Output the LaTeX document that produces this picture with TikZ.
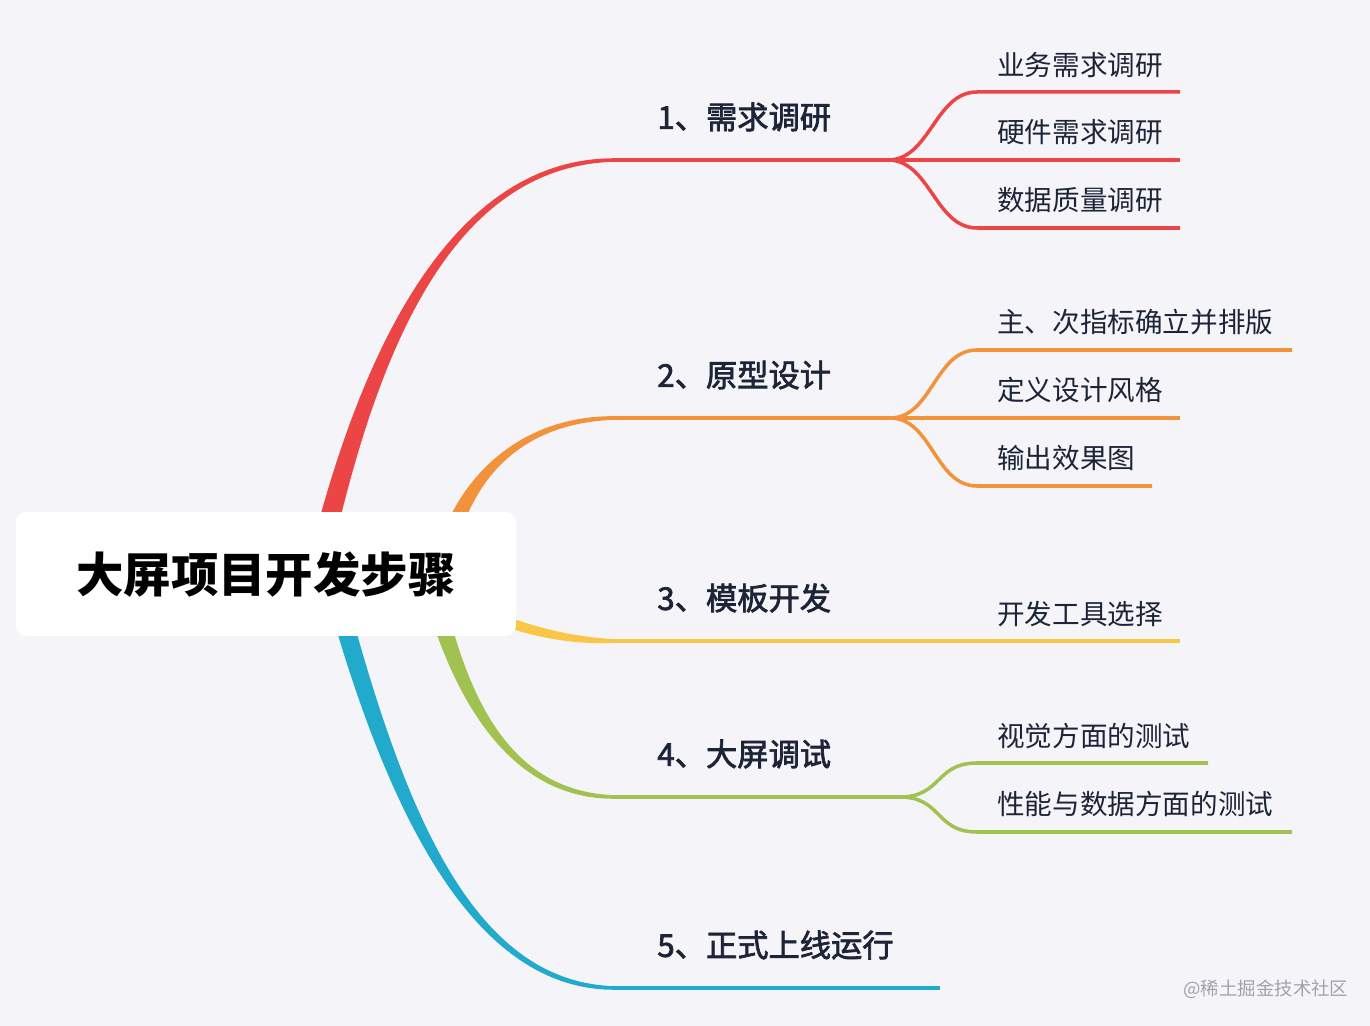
\documentclass[tikz,border=0pt]{standalone}
\usepackage{fontspec}
\setmainfont{Noto Sans CJK SC}
\newfontfamily\topicfont[FakeBold=2.2]{Noto Sans CJK SC}
\usetikzlibrary{positioning}

\definecolor{paper}{HTML}{F5F5F9}
\definecolor{ink}{HTML}{1D2438}
\definecolor{mark}{HTML}{A2A2AA}
\definecolor{brRed}{HTML}{EB4545}
\definecolor{brOrange}{HTML}{F2933B}
\definecolor{brYellow}{HTML}{F9C646}
\definecolor{brGreen}{HTML}{A1C150}
\definecolor{brBlue}{HTML}{22AACC}

\tikzset{
  rootbox/.style={rectangle, rounded corners=0.2cm, fill=white, inner sep=0pt,
    minimum width=10cm, minimum height=2.48cm, text=black,
    font=\fontsize{27}{30}\selectfont\bfseries},
  topic/.style={anchor=west, inner sep=0pt, text=ink,
    font=\fontsize{17.8}{20}\selectfont\topicfont},
  leaf/.style={anchor=west, inner sep=0pt, text=ink,
    font=\fontsize{15.7}{18}\selectfont},
  twig/.style={line width=2pt},
}

\begin{document}
\begin{tikzpicture}[x=0.02cm,y=-0.02cm]
  \fill[paper] (0,0) rectangle (1370,1026);

  % where the five branches reach their topic lines
  \coordinate (k1) at (617,160);
  \coordinate (k2) at (617,418);
  \coordinate (k3) at (617,641);
  \coordinate (k4) at (617,797);
  \coordinate (k5) at (617,988);
  % forks
  \coordinate (f1) at (888,160);
  \coordinate (f2) at (890,418);
  \coordinate (f4) at (900,797);

  % tapered main branches (start hidden under the root box)
  \foreach \i/\clr/\sx/\sy/\ax/\ay/\bx/\by/\ox/\oy in {
      1/brRed/315/580/360/380/440/160/11/0,
      2/brOrange/440/580/455/480/520/418/10/0,
      3/brYellow/480/612/530/632/570/641/0/6,
      4/brGreen/430/580/455/680/500/797/-10/0,
      5/brBlue/335/590/400/830/480/988/-10/0}
    \fill[\clr] ({\sx-\ox},{\sy-\oy}) .. controls ({\ax-0.85*\ox},{\ay-0.85*\oy}) and (\bx,{\by-4}) .. ([yshift=0.035cm]k\i)
      -- ([yshift=-0.035cm]k\i) .. controls (\bx,{\by+4}) and ({\ax+0.85*\ox},{\ay+0.85*\oy}) .. ({\sx+\ox},{\sy+\oy}) -- cycle;

  % topic lines
  \draw[twig,brRed] (k1) -- (1180,160);
  \draw[twig,brOrange] (k2) -- (1180,418);
  \draw[twig,brYellow] (k3) -- (1180,641);
  \draw[twig,brGreen] (k4) -- (f4);
  \draw[twig,brBlue] (k5) -- (940,988);

  % sub branches
  \foreach \f/\clr/\y/\e in {f1/brRed/92/1180, f1/brRed/228/1180,
      f2/brOrange/350/1292, f2/brOrange/486/1152,
      f4/brGreen/763/1208, f4/brGreen/832/1292}
    \draw[twig,\clr] (\f) .. controls +(42,0) and +(-42,0) .. (977,\y) -- (\e,\y);

  \node[rootbox] (root) at (266,574) {大屏项目开发步骤};

  \node[topic] (t1) at (657,117) {1、需求调研};
  \node[topic] (t2) at (657,375) {2、原型设计};
  \node[topic] (t3) at (657,598) {3、模板开发};
  \node[topic] (t4) at (657,754) {4、大屏调试};
  \node[topic] (t5) at (657,945) {5、正式上线运行};

  \node[leaf] (s11) at (997,65) {业务需求调研};
  \node[leaf] (s12) at (997,132) {硬件需求调研};
  \node[leaf] (s13) at (997,200) {数据质量调研};
  \node[leaf] (s21) at (997,322) {主、次指标确立并排版};
  \node[leaf] (s22) at (997,390) {定义设计风格};
  \node[leaf] (s23) at (997,458) {输出效果图};
  \node[leaf] (s31) at (997,614) {开发工具选择};
  \node[leaf] (s41) at (997,736) {视觉方面的测试};
  \node[leaf] (s42) at (997,804) {性能与数据方面的测试};

  \node[anchor=west, inner sep=0pt, text=mark, font=\fontsize{10.5}{12}\selectfont] (wm) at (1183,989) {@稀土掘金技术社区};
\end{tikzpicture}
\end{document}
